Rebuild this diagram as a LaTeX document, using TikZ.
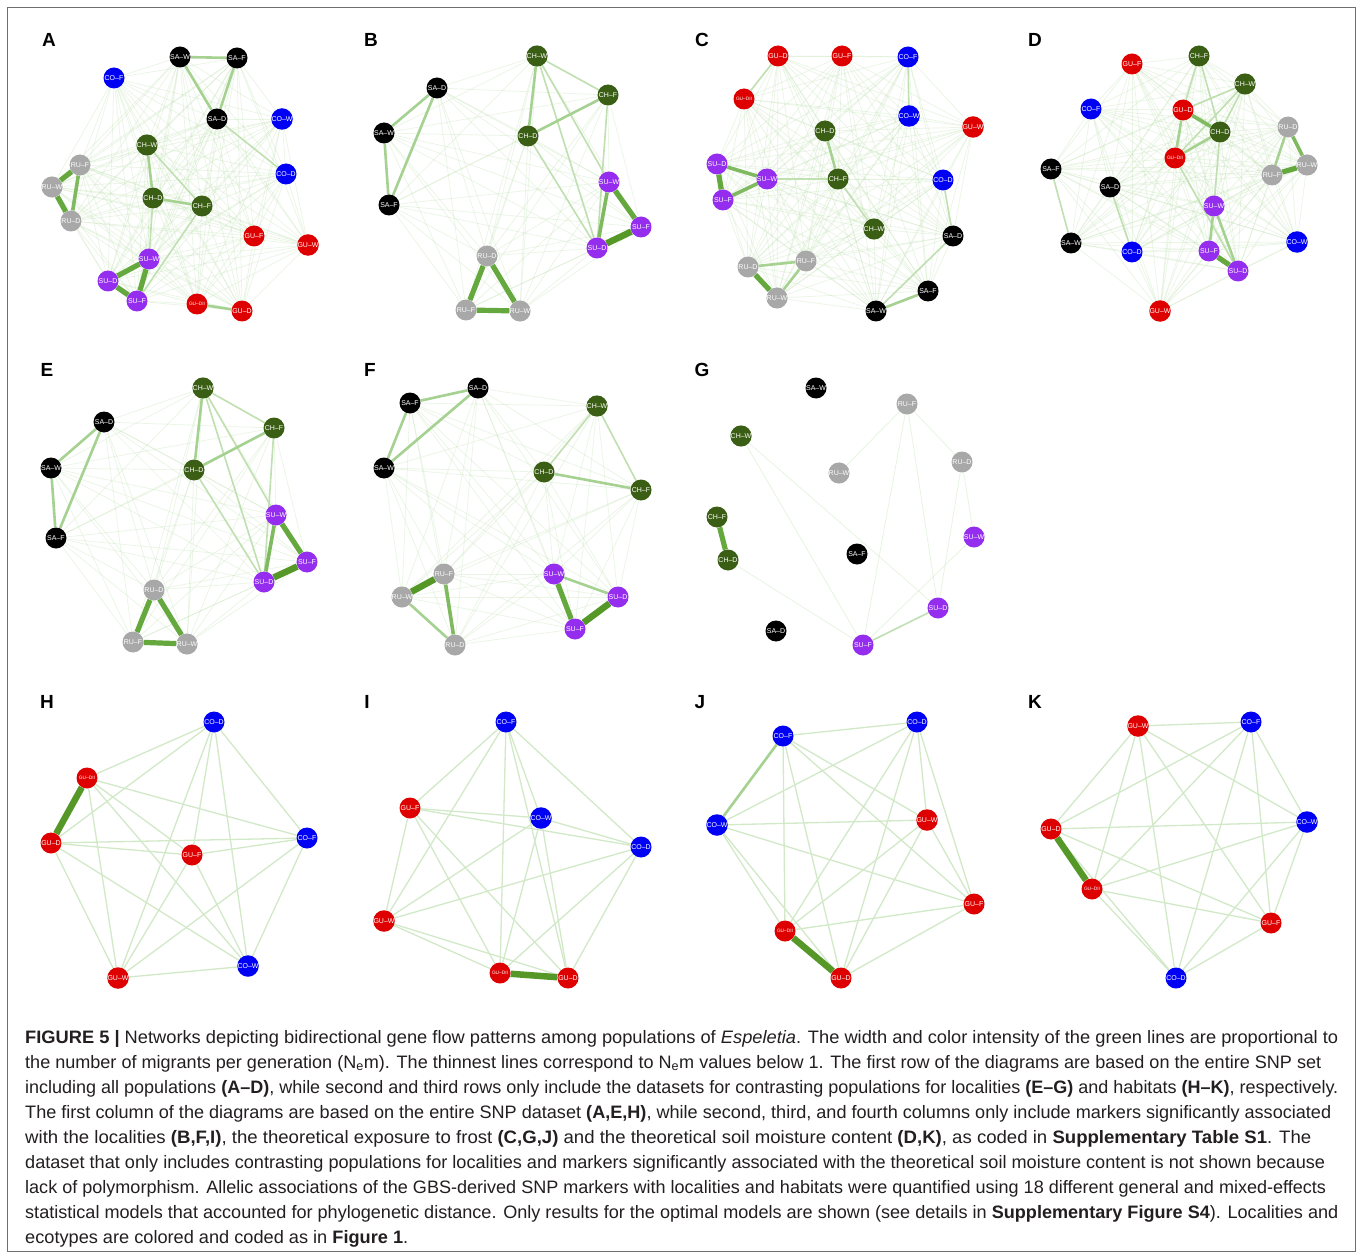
\documentclass[tikz,border=0pt]{standalone}
\usepackage{fontspec}
\setmainfont{Liberation Sans}
\pgfdeclarelayer{edgelayer}
\pgfsetlayers{edgelayer,main}
\definecolor{cbk}{RGB}{0,0,0}
\definecolor{cbl}{RGB}{0,0,245}
\definecolor{crd}{RGB}{222,0,0}
\definecolor{cgn}{RGB}{58,94,20}
\definecolor{cpu}{RGB}{148,45,238}
\definecolor{cgy}{RGB}{168,168,168}
\definecolor{efaint}{RGB}{190,225,175}
\definecolor{elight}{RGB}{210,233,200}
\definecolor{ec2}{RGB}{192,224,177}
\definecolor{ec3}{RGB}{165,209,145}
\definecolor{ec4}{RGB}{128,186,96}
\definecolor{ec5}{RGB}{100,168,62}
\definecolor{ec6}{RGB}{86,152,40}
\definecolor{framec}{RGB}{110,110,110}
\definecolor{captext}{RGB}{35,31,32}
\newsavebox\capbox
\newcommand\capfont{\fontsize{18}{21}\selectfont}
\newcommand\kgraph[3]{\foreach \ua [count=\ka] in {#3}{\foreach \ub [count=\kb] in {#3}{\ifnum\kb>\ka\relax\draw[#2] (#1\ua) -- (#1\ub);\fi}}}
\newcommand\pop[5]{\node[pop,fill=#2] (#1) at (#3,#4) {#5};}
\newcommand\popii[3]{\node[pop,fill=crd,font=\fontsize{4.8}{5}\selectfont] (#1) at (#2,#3) {GU–DII};}
\newcommand\ed[3]{\draw[#1] (#2) -- (#3);}
\newcommand\capline[4]{\node[anchor=base west,inner sep=0pt,font=\capfont,text=captext] (#1) at (25,#2) {\sbox\capbox{#4}\pgfmathsetmacro\capsc{#3/\the\wd\capbox}\scalebox{\capsc}[1]{\usebox\capbox}};}
\tikzset{
  pop/.style={circle,minimum size=21pt,inner sep=0pt,text=white,font=\fontsize{7}{7}\selectfont},
  plabel/.style={inner sep=0pt,font=\fontsize{19}{19}\selectfont\bfseries},
  kfaint/.style={draw=efaint,line width=0.7pt,opacity=0.32},
  klight/.style={draw=elight,line width=1.3pt},
  gfaint/.style={draw=efaint,line width=0.7pt,opacity=0.4},
  e2/.style={draw=ec2,line width=1.6pt},
  e3/.style={draw=ec3,line width=2.6pt},
  e4/.style={draw=ec4,line width=3.6pt},
  e5/.style={draw=ec5,line width=5.2pt},
  e6/.style={draw=ec6,line width=6.5pt}
}
\begin{document}
\begin{tikzpicture}[x=1pt,y=-1pt]
\useasboundingbox (0,0) rectangle (1360,1257);
\begin{pgfonlayer}{edgelayer}
\fill[white] (0,0) rectangle (1360,1257);
\end{pgfonlayer}
\draw[framec,line width=1pt] (7.5,8) rectangle (1355,1251);
% panel letters
\node[plabel] (labA) at (49,40) {A};
\node[plabel] (labB) at (371,40) {B};
\node[plabel] (labC) at (702,40) {C};
\node[plabel] (labD) at (1035,40) {D};
\node[plabel] (labE) at (47,370) {E};
\node[plabel] (labF) at (370,370) {F};
\node[plabel] (labG) at (702,370) {G};
\node[plabel] (labH) at (47,702) {H};
\node[plabel] (labI) at (367,702) {I};
\node[plabel] (labJ) at (700,702) {J};
\node[plabel] (labK) at (1035,702) {K};
% ---------- A
\pop{ASAW}{cbk}{180}{57}{SA–W}
\pop{ASAF}{cbk}{237}{58}{SA–F}
\pop{ACOF}{cbl}{114}{78}{CO–F}
\pop{ASAD}{cbk}{217}{119}{SA–D}
\pop{ACOW}{cbl}{282}{119}{CO–W}
\pop{ACHW}{cgn}{147}{145}{CH–W}
\pop{ARUF}{cgy}{80}{165}{RU–F}
\pop{ACOD}{cbl}{286}{174}{CO–D}
\pop{ARUW}{cgy}{52}{187}{RU–W}
\pop{ACHD}{cgn}{153}{198}{CH–D}
\pop{ACHF}{cgn}{202}{206}{CH–F}
\pop{ARUD}{cgy}{71}{221}{RU–D}
\pop{AGUF}{crd}{254}{236}{GU–F}
\pop{AGUW}{crd}{308}{245}{GU–W}
\pop{ASUW}{cpu}{149}{259}{SU–W}
\pop{ASUD}{cpu}{108}{281}{SU–D}
\pop{ASUF}{cpu}{137}{301}{SU–F}
\popii{AGUDII}{197}{304}
\pop{AGUD}{crd}{242}{311}{GU–D}
% ---------- B
\pop{BCHW}{cgn}{537}{56}{CH–W}
\pop{BSAD}{cbk}{437}{88}{SA–D}
\pop{BCHF}{cgn}{608}{95}{CH–F}
\pop{BSAW}{cbk}{384}{133}{SA–W}
\pop{BCHD}{cgn}{528}{136}{CH–D}
\pop{BSUW}{cpu}{609}{182}{SU–W}
\pop{BSAF}{cbk}{389}{205}{SA–F}
\pop{BSUF}{cpu}{641}{227}{SU–F}
\pop{BSUD}{cpu}{597}{248}{SU–D}
\pop{BRUD}{cgy}{487}{256}{RU–D}
\pop{BRUF}{cgy}{466}{310}{RU–F}
\pop{BRUW}{cgy}{520}{311}{RU–W}
% ---------- C
\pop{CGUD}{crd}{778}{56}{GU–D}
\pop{CGUF}{crd}{842}{56}{GU–F}
\pop{CCOF}{cbl}{908}{57}{CO–F}
\popii{CGUDII}{744}{99}
\pop{CCOW}{cbl}{909}{116}{CO–W}
\pop{CGUW}{crd}{973}{127}{GU–W}
\pop{CCHD}{cgn}{825}{131}{CH–D}
\pop{CSUD}{cpu}{717}{164}{SU–D}
\pop{CSUW}{cpu}{767}{179}{SU–W}
\pop{CCHF}{cgn}{838}{179}{CH–F}
\pop{CCOD}{cbl}{943}{180}{CO–D}
\pop{CSUF}{cpu}{723}{200}{SU–F}
\pop{CCHW}{cgn}{874}{229}{CH–W}
\pop{CSAD}{cbk}{953}{236}{SA–D}
\pop{CRUD}{cgy}{748}{267}{RU–D}
\pop{CRUF}{cgy}{806}{261}{RU–F}
\pop{CRUW}{cgy}{777}{298}{RU–W}
\pop{CSAF}{cbk}{928}{291}{SA–F}
\pop{CSAW}{cbk}{876}{311}{SA–W}
% ---------- D
\pop{DCHF}{cgn}{1199}{56}{CH–F}
\pop{DGUF}{crd}{1132}{64}{GU–F}
\pop{DCHW}{cgn}{1245}{84}{CH–W}
\pop{DCOF}{cbl}{1091}{109}{CO–F}
\pop{DGUD}{crd}{1183}{110}{GU–D}
\pop{DRUD}{cgy}{1288}{127}{RU–D}
\pop{DCHD}{cgn}{1220}{132}{CH–D}
\popii{DGUDII}{1175}{158}
\pop{DRUW}{cgy}{1307}{165}{RU–W}
\pop{DSAF}{cbk}{1051}{169}{SA–F}
\pop{DRUF}{cgy}{1272}{175}{RU–F}
\pop{DSAD}{cbk}{1110}{187}{SA–D}
\pop{DSUW}{cpu}{1214}{206}{SU–W}
\pop{DSAW}{cbk}{1071}{243}{SA–W}
\pop{DCOD}{cbl}{1132}{252}{CO–D}
\pop{DCOW}{cbl}{1297}{242}{CO–W}
\pop{DSUF}{cpu}{1209}{251}{SU–F}
\pop{DSUD}{cpu}{1238}{271}{SU–D}
\pop{DGUW}{crd}{1160}{311}{GU–W}
% ---------- E
\pop{ECHW}{cgn}{203}{388}{CH–W}
\pop{ESAD}{cbk}{104}{422}{SA–D}
\pop{ECHF}{cgn}{274}{428}{CH–F}
\pop{ESAW}{cbk}{51}{468}{SA–W}
\pop{ECHD}{cgn}{194}{470}{CH–D}
\pop{ESUW}{cpu}{276}{515}{SU–W}
\pop{ESAF}{cbk}{56}{538}{SA–F}
\pop{ESUF}{cpu}{307}{562}{SU–F}
\pop{ESUD}{cpu}{264}{582}{SU–D}
\pop{ERUD}{cgy}{154}{590}{RU–D}
\pop{ERUF}{cgy}{133}{642}{RU–F}
\pop{ERUW}{cgy}{187}{644}{RU–W}
% ---------- F
\pop{FSAD}{cbk}{478}{388}{SA–D}
\pop{FSAF}{cbk}{410}{403}{SA–F}
\pop{FCHW}{cgn}{597}{406}{CH–W}
\pop{FSAW}{cbk}{384}{468}{SA–W}
\pop{FCHD}{cgn}{544}{472}{CH–D}
\pop{FCHF}{cgn}{641}{490}{CH–F}
\pop{FRUF}{cgy}{444}{574}{RU–F}
\pop{FSUW}{cpu}{554}{574}{SU–W}
\pop{FRUW}{cgy}{402}{597}{RU–W}
\pop{FSUD}{cpu}{618}{597}{SU–D}
\pop{FSUF}{cpu}{575}{629}{SU–F}
\pop{FRUD}{cgy}{455}{645}{RU–D}
% ---------- G
\pop{GSAW}{cbk}{816}{388}{SA–W}
\pop{GRUF}{cgy}{907}{404}{RU–F}
\pop{GCHW}{cgn}{741}{436}{CH–W}
\pop{GRUW}{cgy}{839}{473}{RU–W}
\pop{GRUD}{cgy}{962}{462}{RU–D}
\pop{GCHF}{cgn}{717}{517}{CH–F}
\pop{GSUW}{cpu}{974}{537}{SU–W}
\pop{GSAF}{cbk}{857}{554}{SA–F}
\pop{GCHD}{cgn}{728}{560}{CH–D}
\pop{GSUD}{cpu}{938}{608}{SU–D}
\pop{GSAD}{cbk}{776}{631}{SA–D}
\pop{GSUF}{cpu}{863}{645}{SU–F}
% ---------- H
\pop{HCOD}{cbl}{214}{722}{CO–D}
\popii{HGUDII}{87}{778}
\pop{HCOF}{cbl}{307}{838}{CO–F}
\pop{HGUD}{crd}{51}{843}{GU–D}
\pop{HGUF}{crd}{192}{855}{GU–F}
\pop{HCOW}{cbl}{248}{966}{CO–W}
\pop{HGUW}{crd}{118}{978}{GU–W}
% ---------- I
\pop{ICOF}{cbl}{506}{722}{CO–F}
\pop{IGUF}{crd}{410}{808}{GU–F}
\pop{ICOW}{cbl}{541}{818}{CO–W}
\pop{ICOD}{cbl}{641}{847}{CO–D}
\pop{IGUW}{crd}{384}{921}{GU–W}
\popii{IGUDII}{500}{973}
\pop{IGUD}{crd}{568}{978}{GU–D}
% ---------- J
\pop{JCOD}{cbl}{917}{722}{CO–D}
\pop{JCOF}{cbl}{783}{736}{CO–F}
\pop{JCOW}{cbl}{717}{825}{CO–W}
\pop{JGUW}{crd}{927}{820}{GU–W}
\pop{JGUF}{crd}{974}{904}{GU–F}
\popii{JGUDII}{785}{931}
\pop{JGUD}{crd}{841}{978}{GU–D}
% ---------- K
\pop{KGUW}{crd}{1138}{726}{GU–W}
\pop{KCOF}{cbl}{1251}{722}{CO–F}
\pop{KCOW}{cbl}{1307}{822}{CO–W}
\pop{KGUD}{crd}{1051}{829}{GU–D}
\popii{KGUDII}{1092}{889}
\pop{KGUF}{crd}{1271}{923}{GU–F}
\pop{KCOD}{cbl}{1176}{978}{CO–D}
% ================= edges
\begin{pgfonlayer}{edgelayer}
\kgraph{A}{kfaint}{SAW,SAF,COF,SAD,COW,CHW,RUF,COD,RUW,CHD,CHF,RUD,GUF,GUW,SUW,SUD,SUF,GUDII,GUD}
\kgraph{B}{kfaint}{CHW,SAD,CHF,SAW,CHD,SUW,SAF,SUF,SUD,RUD,RUF,RUW}
\kgraph{C}{kfaint}{GUD,GUF,COF,GUDII,COW,GUW,CHD,SUD,SUW,CHF,COD,SUF,CHW,SAD,RUD,RUF,RUW,SAF,SAW}
\kgraph{D}{kfaint}{CHF,GUF,CHW,COF,GUD,RUD,CHD,GUDII,RUW,SAF,RUF,SAD,SUW,SAW,COD,COW,SUF,SUD,GUW}
\kgraph{E}{kfaint}{CHW,SAD,CHF,SAW,CHD,SUW,SAF,SUF,SUD,RUD,RUF,RUW}
\kgraph{F}{kfaint}{SAD,SAF,CHW,SAW,CHD,CHF,RUF,SUW,RUW,SUD,SUF,RUD}
\kgraph{H}{klight}{COD,GUDII,COF,GUD,GUF,COW,GUW}
\kgraph{I}{klight}{COF,GUF,COW,COD,GUW,GUDII,GUD}
\kgraph{J}{klight}{COD,COF,COW,GUW,GUF,GUDII,GUD}
\kgraph{K}{klight}{GUW,COF,COW,GUD,GUDII,GUF,COD}
% A
\ed{e2}{ASAD}{ACOD} \ed{e2}{ACHD}{ASUW} \ed{e2}{ACHF}{ASUF} \ed{e2}{ACHW}{ACHF}
\ed{e3}{ASAW}{ASAF} \ed{e3}{ASAW}{ASAD} \ed{e3}{ASAF}{ASAD}
\ed{e3}{ACHW}{ACHD} \ed{e3}{ACHD}{ACHF} \ed{e3}{AGUDII}{AGUD}
\ed{e5}{ARUF}{ARUW} \ed{e5}{ARUW}{ARUD} \ed{e4}{ARUF}{ARUD}
\ed{e5}{ASUW}{ASUD} \ed{e5}{ASUD}{ASUF} \ed{e5}{ASUW}{ASUF}
% B
\ed{e2}{BCHW}{BCHF} \ed{e2}{BCHW}{BSUW} \ed{e2}{BCHW}{BSUD} \ed{e2}{BCHF}{BSUD} \ed{e2}{BCHD}{BSUD}
\ed{e3}{BSAD}{BSAW} \ed{e3}{BSAD}{BSAF} \ed{e3}{BSAW}{BSAF}
\ed{e3}{BCHW}{BCHD} \ed{e3}{BCHD}{BCHF}
\ed{e5}{BSUW}{BSUF} \ed{e4}{BSUW}{BSUD} \ed{e6}{BSUD}{BSUF}
\ed{e5}{BRUD}{BRUF} \ed{e5}{BRUD}{BRUW} \ed{e5}{BRUF}{BRUW}
% C
\ed{e2}{CCHF}{CCHW} \ed{e2}{CSUW}{CCHF} \ed{e2}{CGUD}{CGUDII} \ed{e2}{CCOF}{CCOW}
\ed{e2}{CSAW}{CSAD} \ed{e2}{CSAD}{CCOD} \ed{e3}{CSAW}{CSAF}
\ed{e3}{CCHD}{CCHF} \ed{e3}{CRUD}{CRUF} \ed{e3}{CRUF}{CRUW}
\ed{e5}{CSUD}{CSUF} \ed{e4}{CSUD}{CSUW} \ed{e4}{CSUW}{CSUF} \ed{e5}{CRUD}{CRUW}
% D
\ed{e2}{DCHF}{DCHD} \ed{e2}{DCHW}{DCHD} \ed{e2}{DCHW}{DGUDII} \ed{e2}{DCHF}{DGUD} \ed{e2}{DCHW}{DGUD}
\ed{e2}{DSAD}{DCOD} \ed{e2}{DSAF}{DSAW} \ed{e2}{DCHD}{DSUW} \ed{e2}{DGUDII}{DSUD}
\ed{e3}{DGUD}{DGUDII} \ed{e3}{DGUDII}{DCHD} \ed{e4}{DGUD}{DCHD}
\ed{e3}{DRUD}{DRUF} \ed{e4}{DRUD}{DRUW} \ed{e5}{DRUF}{DRUW}
\ed{e3}{DSUW}{DSUF} \ed{e3}{DSUW}{DSUD} \ed{e5}{DSUF}{DSUD}
% E
\ed{e2}{ECHW}{ECHF} \ed{e2}{ECHW}{ESUW} \ed{e2}{ECHW}{ESUD} \ed{e2}{ECHF}{ESUD} \ed{e2}{ECHD}{ESUD}
\ed{e3}{ESAD}{ESAW} \ed{e3}{ESAD}{ESAF} \ed{e3}{ESAW}{ESAF}
\ed{e3}{ECHW}{ECHD} \ed{e3}{ECHD}{ECHF}
\ed{e5}{ESUW}{ESUF} \ed{e4}{ESUW}{ESUD} \ed{e6}{ESUD}{ESUF}
\ed{e5}{ERUD}{ERUF} \ed{e5}{ERUD}{ERUW} \ed{e5}{ERUF}{ERUW}
% F
\ed{e2}{FCHW}{FCHD} \ed{e2}{FCHW}{FCHF}
\ed{e3}{FSAD}{FSAF} \ed{e3}{FSAD}{FSAW} \ed{e3}{FSAF}{FSAW} \ed{e3}{FCHD}{FCHF}
\ed{e6}{FRUF}{FRUW} \ed{e4}{FRUF}{FRUD} \ed{e3}{FRUW}{FRUD}
\ed{e5}{FSUW}{FSUF} \ed{e3}{FSUW}{FSUD} \ed{e6}{FSUD}{FSUF}
% G
\ed{gfaint}{GSUF}{GSUW} \ed{gfaint}{GCHW}{GSUD} \ed{gfaint}{GCHW}{GSUF} \ed{gfaint}{GCHD}{GSUF}
\ed{gfaint}{GRUF}{GRUW} \ed{gfaint}{GRUF}{GRUD} \ed{gfaint}{GRUF}{GSUF} \ed{gfaint}{GRUF}{GSUD}
\ed{gfaint}{GRUD}{GSUW} \ed{gfaint}{GRUD}{GSUD}
\ed{e2}{GSUF}{GSUD}
\ed{e5}{GCHF}{GCHD}
% H-K
\ed{e6}{HGUDII}{HGUD}
\ed{e6}{IGUDII}{IGUD}
\ed{e3}{JCOF}{JCOW}
\ed{e6}{JGUDII}{JGUD}
\ed{e6}{KGUD}{KGUDII}
\end{pgfonlayer}
% ================= caption
\capline{cap1}{1043}{1313}{\textbf{FIGURE 5 |} Networks depicting bidirectional gene flow patterns among populations of \textit{Espeletia}. The width and color intensity of the green lines are proportional to}
\capline{cap2}{1068}{1296}{the number of migrants per generation (N\textsubscript{e}m). The thinnest lines correspond to N\textsubscript{e}m values below 1. The first row of the diagrams are based on the entire SNP set}
\capline{cap3}{1093}{1313}{including all populations \textbf{(A–D)}, while second and third rows only include the datasets for contrasting populations for localities \textbf{(E–G)} and habitats \textbf{(H–K)}, respectively.}
\capline{cap4}{1118}{1306}{The first column of the diagrams are based on the entire SNP dataset \textbf{(A,E,H)}, while second, third, and fourth columns only include markers significantly associated}
\capline{cap5}{1143}{1286}{with the localities \textbf{(B,F,I)}, the theoretical exposure to frost \textbf{(C,G,J)} and the theoretical soil moisture content \textbf{(D,K)}, as coded in \textbf{Supplementary Table S1}. The}
\capline{cap6}{1168}{1300}{dataset that only includes contrasting populations for localities and markers significantly associated with the theoretical soil moisture content is not shown because}
\capline{cap7}{1193}{1301}{lack of polymorphism. Allelic associations of the GBS-derived SNP markers with localities and habitats were quantified using 18 different general and mixed-effects}
\capline{cap8}{1218}{1313}{statistical models that accounted for phylogenetic distance. Only results for the optimal models are shown (see details in \textbf{Supplementary Figure S4}). Localities and}
\capline{cap9}{1243}{383}{ecotypes are colored and coded as in \textbf{Figure 1}.}
\end{tikzpicture}
\end{document}
